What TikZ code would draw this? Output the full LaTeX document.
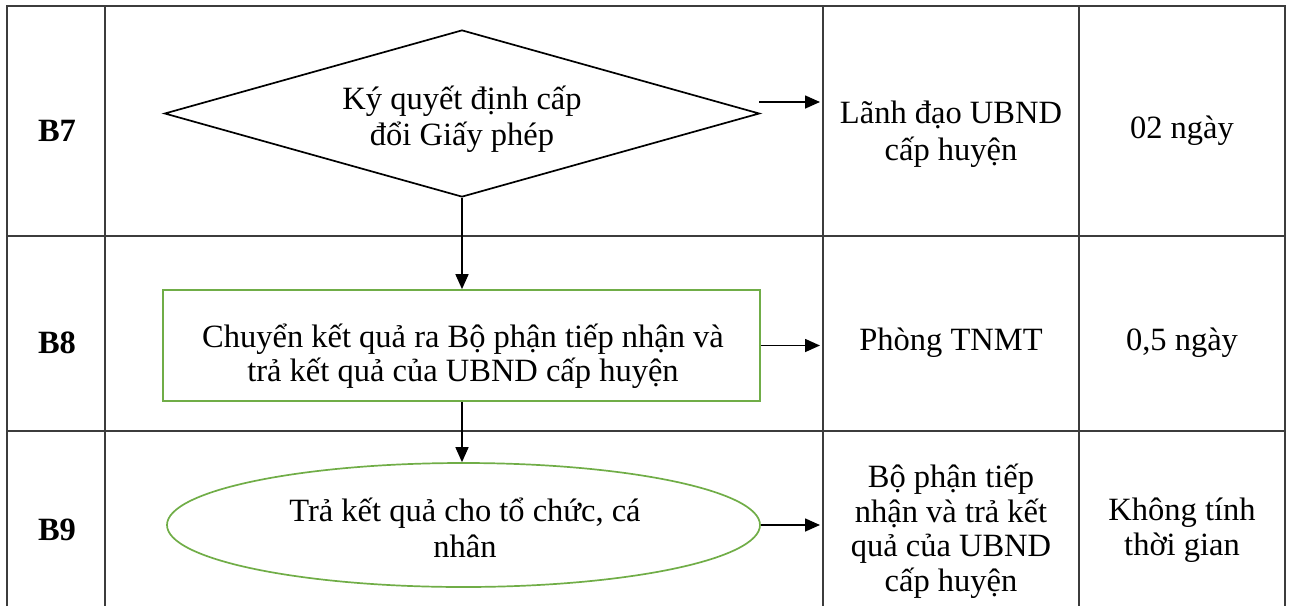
\documentclass[tikz,border=0pt]{standalone}
\usepackage{fontspec}
\setmainfont{Liberation Serif}
\usetikzlibrary{shapes.geometric,arrows.meta}
\definecolor{boxgreen}{RGB}{112,173,71}
\definecolor{gridgray}{RGB}{60,60,60}
\tikzset{
  grid/.style={draw=gridgray,line width=1.3pt},
  txt/.style={font=\fontsize{32.5}{34.5}\selectfont,align=center,inner sep=0pt},
  stepcell/.style={font=\fontsize{32.5}{34.5}\selectfont\bfseries,inner sep=0pt},
  flow/.style={draw=black,line width=1.6pt,-{Triangle[length=15pt,width=13pt]}},
  shp/.style={line width=1.7pt,inner sep=0pt,align=center}
}
\begin{document}
\begin{tikzpicture}[x=1pt,y=-1pt]
\useasboundingbox (0,0) rectangle (1291,606);
% table grid
\draw[grid] (7,606) -- (7,6) -- (1285,6) -- (1285,606);
\draw[grid] (105,6) -- (105,606);
\draw[grid] (823,6) -- (823,606);
\draw[grid] (1079,6) -- (1079,606);
\draw[grid] (7,236) -- (1285,236);
\draw[grid] (7,431) -- (1285,431);
% step labels
\node[stepcell] (b7) at (57,131) {B7};
\node[stepcell] (b8) at (57,343) {B8};
\node[stepcell] (b9) at (57,530) {B9};
% flow shapes
\node[shp,draw=black,diamond,minimum width=595pt,minimum height=167pt] (dia) at (462,113.5) {};
\node[txt] (diat) at (462,119) {Ký quyết định cấp\\[1.5pt]đổi Giấy phép};
\node[shp,draw=boxgreen,rectangle,minimum width=597pt,minimum height=111pt] (box) at (461.5,345.5) {};
\node[txt] (boxt) at (463,356) {Chuyển kết quả ra Bộ phận tiếp nhận và\\trả kết quả của UBND cấp huyện};
\node[shp,draw=boxgreen,ellipse,minimum width=593pt,minimum height=124pt] (ell) at (463.5,525) {};
\node[txt] (ellt) at (465,528) {Trả kết quả cho tổ chức, cá\\[1pt]nhân};
% responsible units
\node[txt] (r7) at (951,134) {Lãnh đạo UBND\\[3pt]cấp huyện};
\node[txt] (r8) at (951,343) {Phòng TNMT};
\node[txt] (r9) at (951,531) {Bộ phận tiếp\\nhận và trả kết\\quả của UBND\\cấp huyện};
% time
\node[txt] (t7) at (1182,131) {02 ngày};
\node[txt] (t8) at (1182,343) {0,5 ngày};
\node[txt] (t9) at (1182,530) {Không tính\\thời gian};
% connectors
\coordinate (a7s) at (759,102);
\coordinate (a7e) at (820,102);
\draw[flow] (a7s) -- (a7e);
\draw[flow] (dia.south) -- (dia.south |- box.north);
\draw[flow] (dia.south |- box.south) -- (dia.south |- ell.north);
\draw[flow] (box.east) -- (box.east -| a7e);
\draw[flow] (ell.east) -- (ell.east -| a7e);
\end{tikzpicture}
\end{document}
